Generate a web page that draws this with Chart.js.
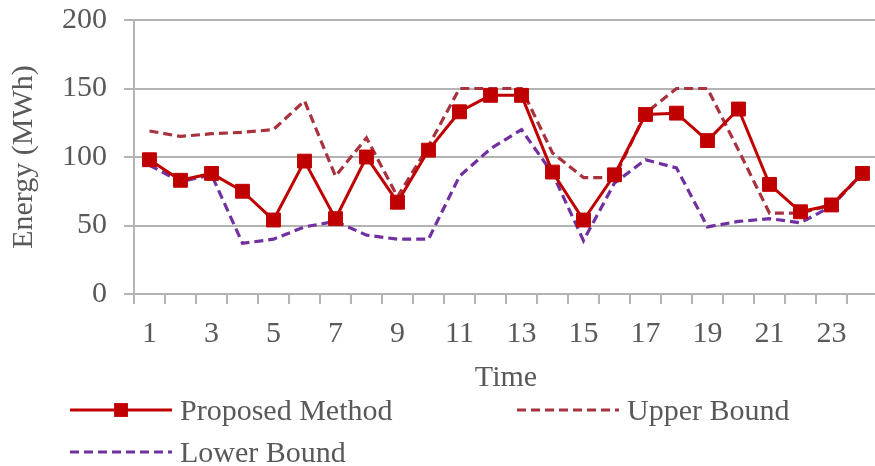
<!DOCTYPE html>
<html>
<head>
<meta charset="utf-8">
<script src="https://cdn.jsdelivr.net/npm/chart.js@4"></script>
<style>
  html, body { margin: 0; padding: 0; background: #fff; overflow: hidden; }
  #wrap { position: relative; width: 880px; height: 466px; }
  #wrap canvas { position: absolute; left: 0; top: 0; }
  .legend-item { position: absolute; display: flex; align-items: center;
    font-family: "Liberation Serif", "Times New Roman", serif; font-size: 30px; color: #595959; white-space: nowrap; }
  .legend-item svg { margin-right: 8px; }
</style>
</head>
<body>
<div id="wrap">
  <canvas id="chart" width="880" height="466"></canvas>
</div>
<script>
// Hourly energy (MWh) for the 24 time steps
const hours = ['1','2','3','4','5','6','7','8','9','10','11','12','13','14','15','16','17','18','19','20','21','22','23','24'];
const proposedMethod = [98, 83, 88, 75, 54, 97, 55, 100, 67, 105, 133, 145, 145, 89, 54, 87, 131, 132, 112, 135, 80, 60, 65, 88];
const upperBound     = [119, 115, 117, 118, 120, 141, 86, 114, 71, 108, 150, 150, 150, 103, 85, 85, 132, 150, 150, 105, 59, 59, 65, 88];
const lowerBound     = [94, 82, 87, 37, 40, 49, 53, 43, 40, 40, 86, 106, 120, 88, 39, 81, 98, 92, 49, 53, 55, 52, 64, 88];
const yTicks = [0, 50, 100, 150, 200];

const textColor = '#595959';
const gridColor = '#b4b4b4';
const serif = '"Liberation Serif", "Times New Roman", serif';

const datasets = [
  { label: 'Proposed Method', data: proposedMethod, borderColor: '#c00000', backgroundColor: '#c00000',
    borderWidth: 3, pointStyle: 'rect', pointRadius: 9.8, pointBorderWidth: 1, pointHoverRadius: 9.8,
    tension: 0, order: 1 },
  { label: 'Upper Bound', data: upperBound, borderColor: '#a8323e', backgroundColor: '#a8323e',
    borderWidth: 3.2, borderDash: [9, 5], pointRadius: 0, tension: 0, order: 2 },
  { label: 'Lower Bound', data: lowerBound, borderColor: '#7030a0', backgroundColor: '#7030a0',
    borderWidth: 3.2, borderDash: [9, 5], pointRadius: 0, tension: 0, order: 3 }
];

// Keep the plot box fixed: no extra room reserved for edge tick labels
const noEdgePadding = (s) => { s.paddingLeft = 0; s.paddingRight = 0; s.paddingTop = 0; s.paddingBottom = 0; };

const chart = new Chart(document.getElementById('chart'), {
  type: 'line',
  data: { labels: hours, datasets },
  options: {
    responsive: false,
    animation: false,
    events: [],
    layout: { autoPadding: false, padding: { left: 0, right: 2, top: 20, bottom: 70 } },
    plugins: { legend: { display: false }, tooltip: { enabled: false } },
    scales: {
      x: {
        type: 'category',
        offset: true,
        grid: { offset: true, drawOnChartArea: false, drawTicks: true, tickLength: 10, color: gridColor, lineWidth: 2 },
        border: { display: true, color: gridColor, width: 2 },
        ticks: {
          autoSkip: false, maxRotation: 0, padding: 12, color: textColor,
          font: { family: serif, size: 30 },
          callback: (v, i) => (i % 2 === 0 ? hours[i] : '')
        },
        title: { display: true, text: 'Time', color: textColor, font: { family: serif, size: 30, lineHeight: 1.2 }, padding: 0 },
        afterFit: (s) => { s.height = 102; noEdgePadding(s); }
      },
      y: {
        min: 0, max: 200,
        afterBuildTicks: (s) => { s.ticks = yTicks.map(v => ({ value: v })); },
        grid: { drawTicks: true, tickLength: 10, color: gridColor, lineWidth: 2 },
        border: { display: true, color: gridColor, width: 2 },
        ticks: { padding: 17, color: textColor, font: { family: serif, size: 30 } },
        title: { display: true, text: 'Energy (MWh)', color: textColor, font: { family: serif, size: 30, lineHeight: 1.2 }, padding: { top: 6, bottom: 0 } },
        afterFit: (s) => { s.width = 134; noEdgePadding(s); }
      }
    }
  }
});

// Legend built from the dataset styles
const legendPlaces = [
  { left: 70, top: 410 },
  { left: 517, top: 410 },
  { left: 70, top: 452 }
];
const wrap = document.getElementById('wrap');
datasets.forEach((ds, i) => {
  const item = document.createElement('div');
  item.className = 'legend-item';
  item.style.left = legendPlaces[i].left + 'px';
  item.style.top = (legendPlaces[i].top - 20) + 'px';
  item.style.height = '40px';
  const svgNS = 'http://www.w3.org/2000/svg';
  const svg = document.createElementNS(svgNS, 'svg');
  svg.setAttribute('width', '102');
  svg.setAttribute('height', '40');
  const line = document.createElementNS(svgNS, 'line');
  line.setAttribute('x1', '0'); line.setAttribute('x2', '102');
  line.setAttribute('y1', '20'); line.setAttribute('y2', '20');
  line.setAttribute('stroke', ds.borderColor);
  line.setAttribute('stroke-width', ds.borderWidth);
  if (ds.borderDash) line.setAttribute('stroke-dasharray', ds.borderDash.join(' '));
  svg.appendChild(line);
  if (ds.pointRadius > 0) {
    const side = ds.pointRadius * Math.SQRT2;
    const r = document.createElementNS(svgNS, 'rect');
    r.setAttribute('x', 51 - side / 2); r.setAttribute('y', 20 - side / 2);
    r.setAttribute('width', side); r.setAttribute('height', side);
    r.setAttribute('fill', ds.backgroundColor);
    svg.appendChild(r);
  }
  item.appendChild(svg);
  const span = document.createElement('span');
  span.textContent = ds.label;
  item.appendChild(span);
  wrap.appendChild(item);
});
</script>
</body>
</html>
